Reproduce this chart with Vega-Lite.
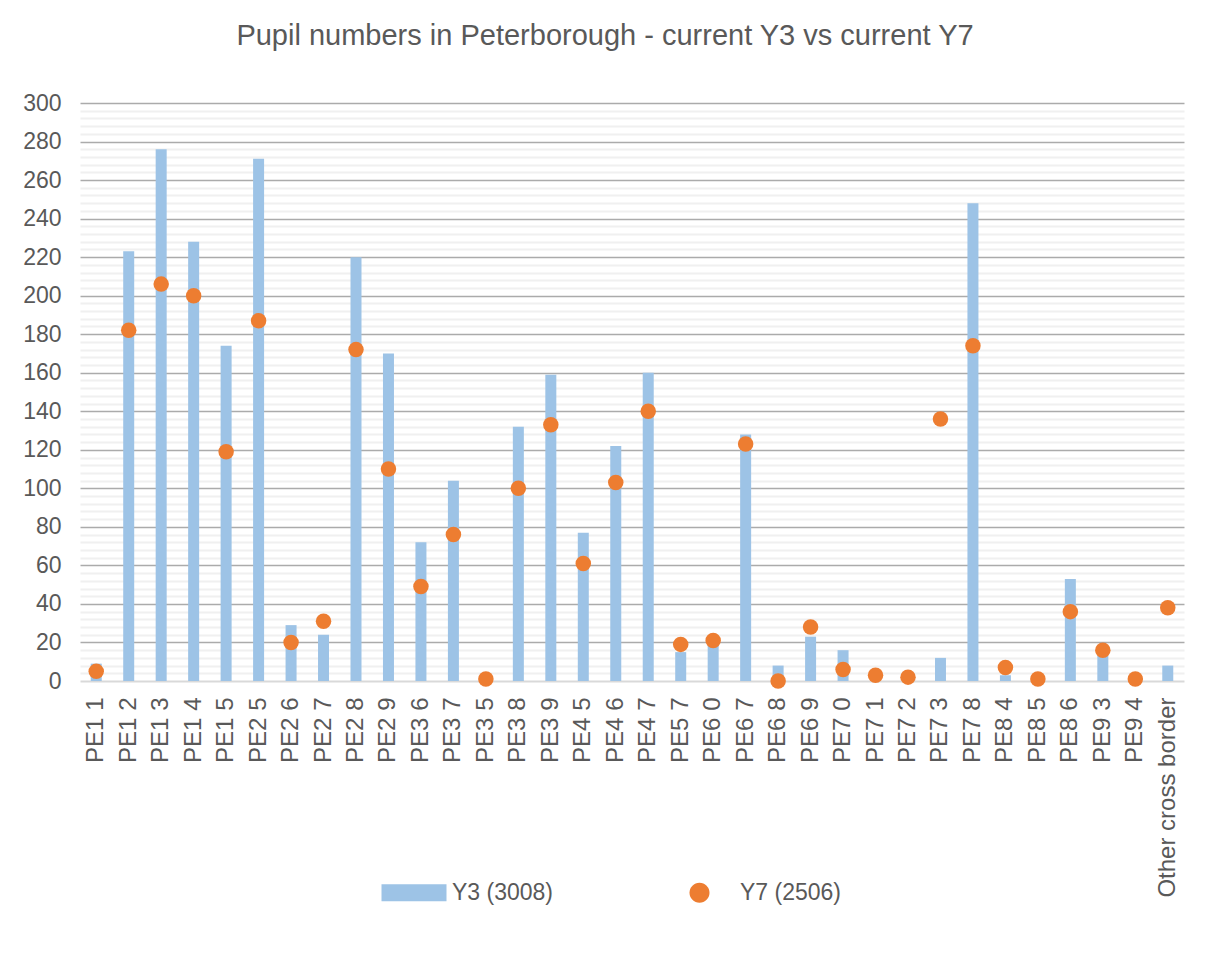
{
  "$schema": "https://vega.github.io/schema/vega-lite/v6.json",
  "autosize": "none",
  "width": 1104,
  "height": 578,
  "padding": {"left": 80, "top": 103, "right": 25, "bottom": 286},
  "background": "#ffffff",
  "config": {
    "view": {"stroke": null},
    "font": "Liberation Sans"
  },
  "title": {
    "text": "Pupil numbers in Peterborough - current Y3 vs current Y7",
    "font": "Liberation Sans",
    "fontSize": 29,
    "fontWeight": "normal",
    "color": "#595959",
    "anchor": "middle",
    "frame": "group",
    "dx": -27,
    "offset": 18,
    "baseline": "alphabetic"
  },
  "data": {
    "values": [
      {"area": "PE1 1", "y3": 9, "y7": 5},
      {"area": "PE1 2", "y3": 223, "y7": 182},
      {"area": "PE1 3", "y3": 276, "y7": 206},
      {"area": "PE1 4", "y3": 228, "y7": 200},
      {"area": "PE1 5", "y3": 174, "y7": 119},
      {"area": "PE2 5", "y3": 271, "y7": 187},
      {"area": "PE2 6", "y3": 29, "y7": 20},
      {"area": "PE2 7", "y3": 24, "y7": 31},
      {"area": "PE2 8", "y3": 220, "y7": 172},
      {"area": "PE2 9", "y3": 170, "y7": 110},
      {"area": "PE3 6", "y3": 72, "y7": 49},
      {"area": "PE3 7", "y3": 104, "y7": 76},
      {"area": "PE3 5", "y3": 0, "y7": 1},
      {"area": "PE3 8", "y3": 132, "y7": 100},
      {"area": "PE3 9", "y3": 159, "y7": 133},
      {"area": "PE4 5", "y3": 77, "y7": 61},
      {"area": "PE4 6", "y3": 122, "y7": 103},
      {"area": "PE4 7", "y3": 160, "y7": 140},
      {"area": "PE5 7", "y3": 15, "y7": 19},
      {"area": "PE6 0", "y3": 19, "y7": 21},
      {"area": "PE6 7", "y3": 128, "y7": 123},
      {"area": "PE6 8", "y3": 8, "y7": 0},
      {"area": "PE6 9", "y3": 23, "y7": 28},
      {"area": "PE7 0", "y3": 16, "y7": 6},
      {"area": "PE7 1", "y3": 0, "y7": 3},
      {"area": "PE7 2", "y3": 0, "y7": 2},
      {"area": "PE7 3", "y3": 12, "y7": 136},
      {"area": "PE7 8", "y3": 248, "y7": 174},
      {"area": "PE8 4", "y3": 3, "y7": 7},
      {"area": "PE8 5", "y3": 0, "y7": 1},
      {"area": "PE8 6", "y3": 53, "y7": 36},
      {"area": "PE9 3", "y3": 13, "y7": 16},
      {"area": "PE9 4", "y3": 0, "y7": 1},
      {"area": "Other cross border", "y3": 8, "y7": 38}
    ]
  },
  "encoding": {
    "x": {
      "field": "area",
      "type": "nominal",
      "sort": null,
      "scale": {"paddingInner": 0, "paddingOuter": 0},
      "axis": {
        "title": null,
        "labelAngle": -90,
        "labelFontSize": 24,
        "labelColor": "#595959",
        "labelFont": "Liberation Sans",
        "labelPadding": 16,
        "ticks": false,
        "domain": true,
        "domainColor": "#d9d9d9",
        "domainWidth": 2,
        "grid": false,
        "labelLimit": 400
      }
    }
  },
  "layer": [
    {
      "mark": {"type": "bar", "size": 11},
      "encoding": {
        "y": {
          "field": "y3",
          "type": "quantitative",
          "scale": {"domain": [0, 300], "nice": false},
          "axis": {
            "orient": "right",
            "title": null,
            "labels": false,
            "ticks": false,
            "domain": false,
            "grid": true,
            "gridColor": "#f0f0f0",
            "gridWidth": 2,
            "values": [4, 8, 12, 16, 24, 28, 32, 36, 44, 48, 52, 56, 64, 68, 72, 76, 84, 88, 92, 96, 104, 108, 112, 116, 124, 128, 132, 136, 144, 148, 152, 156, 164, 168, 172, 176, 184, 188, 192, 196, 204, 208, 212, 216, 224, 228, 232, 236, 244, 248, 252, 256, 264, 268, 272, 276, 284, 288, 292, 296]
          }
        },
        "color": {
          "datum": "Y3 (3008)",
          "type": "nominal",
          "scale": {"domain": ["Y3 (3008)", "Y7 (2506)"], "range": ["#9dc3e6", "#ed7d31"]},
          "legend": {
            "orient": "none",
            "legendX": 345,
            "legendY": 778,
            "direction": "horizontal",
            "title": null,
            "symbolSize": 400,
            "symbolStrokeWidth": 0,
            "symbolOpacity": 1,
            "labelFontSize": 23,
            "labelFont": "Liberation Sans",
            "labelColor": "#595959",
            "labelOffset": 4,
            "columnPadding": 135,
            "encode": {
              "symbols": {
                "update": {
                  "size": {"value": 400},
                  "shape": {"signal": "datum.value === 'Y3 (3008)' ? 'M-5.5,-0.85H1V0.85H-5.5Z' : 'M-1.5,0A1,1,0,1,1,-3.5,0A1,1,0,1,1,-1.5,0Z'"}
                }
              }
            }
          }
        }
      }
    },
    {
      "mark": {"type": "circle", "size": 240, "opacity": 1},
      "encoding": {
        "y": {
          "field": "y7",
          "type": "quantitative",
          "scale": {"domain": [0, 300], "nice": false},
          "axis": {
            "orient": "left",
            "title": null,
            "values": [0, 20, 40, 60, 80, 100, 120, 140, 160, 180, 200, 220, 240, 260, 280, 300],
            "labelFontSize": 23,
            "labelFont": "Liberation Sans",
            "labelColor": "#595959",
            "labelPadding": 19,
            "ticks": false,
            "domain": false,
            "grid": true,
            "gridColor": {"condition": {"test": "datum.value === 0", "value": "transparent"}, "value": "#ababab"},
            "gridWidth": 1.5
          }
        },
        "color": {
          "datum": "Y7 (2506)",
          "type": "nominal"
        }
      }
    }
  ],
  "resolve": {"scale": {"y": "independent"}}
}
